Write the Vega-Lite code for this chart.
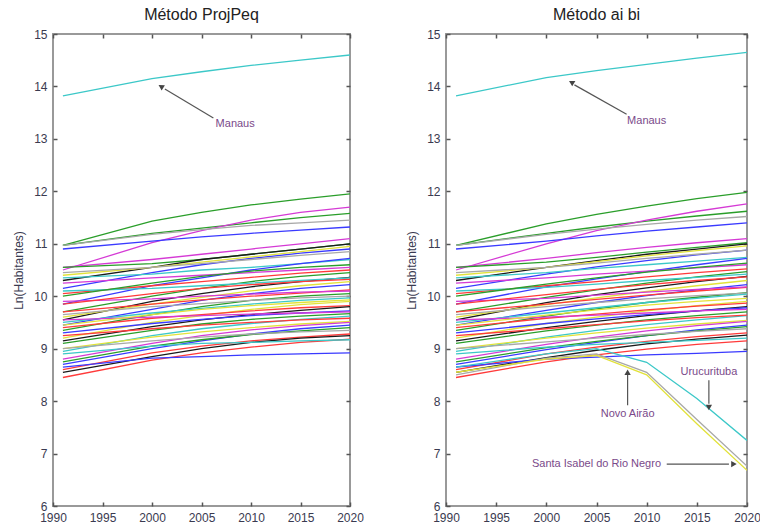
{
"$schema": "https://vega.github.io/schema/vega-lite/v6.json",
"background": "white",
"padding": {"left": 11, "top": 6, "right": 0, "bottom": 4},
"spacing": 39,
"config": {
  "font": "Liberation Sans",
  "view": {"stroke": "#999999", "strokeWidth": 2},
  "axis": {"grid": false, "domain": false, "tickColor": "#555555", "tickWidth": 1.5, "tickSize": 4, "offset": -4, "labelPadding": 6, "labelFlush": false, "labelFontSize": 12, "labelColor": "#3a3a50", "titleFontSize": 12, "titleFontWeight": "normal", "titleColor": "#3a3a50", "titlePadding": 8},
  "title": {"fontSize": 16, "fontWeight": "normal", "color": "#222222", "offset": 5}
},
"datasets": {
"P": [
{"m":"01","c":"c","1991":13.82,"2000":14.15,"2005":14.28,"2010":14.4,"2015":14.5,"2020":14.6},
{"m":"02","c":"g","1991":10.97,"2000":11.43,"2005":11.6,"2010":11.74,"2015":11.85,"2020":11.95},
{"m":"03","c":"g","1991":10.97,"2000":11.2,"2005":11.3,"2010":11.4,"2015":11.5,"2020":11.58},
{"m":"04","c":"m","1991":10.5,"2000":11.02,"2005":11.25,"2010":11.45,"2015":11.6,"2020":11.7},
{"m":"05","c":"gr","1991":10.97,"2000":11.18,"2005":11.27,"2010":11.35,"2015":11.4,"2020":11.45},
{"m":"06","c":"b","1991":10.9,"2000":11.05,"2005":11.13,"2010":11.2,"2015":11.26,"2020":11.32},
{"m":"07","c":"m","1991":10.55,"2000":10.7,"2005":10.8,"2010":10.9,"2015":11.0,"2020":11.1},
{"m":"08","c":"g","1991":10.55,"2000":10.62,"2005":10.7,"2010":10.8,"2015":10.9,"2020":11.0},
{"m":"09","c":"k","1991":10.3,"2000":10.55,"2005":10.7,"2010":10.8,"2015":10.9,"2020":11.0},
{"m":"10","c":"b","1991":10.15,"2000":10.45,"2005":10.6,"2010":10.72,"2015":10.82,"2020":10.9},
{"m":"11","c":"y","1991":10.4,"2000":10.55,"2005":10.65,"2010":10.75,"2015":10.85,"2020":10.95},
{"m":"12","c":"gr","1991":10.45,"2000":10.55,"2005":10.62,"2010":10.7,"2015":10.78,"2020":10.85},
{"m":"13","c":"c","1991":10.35,"2000":10.42,"2005":10.5,"2010":10.55,"2015":10.62,"2020":10.7},
{"m":"14","c":"b","1991":9.85,"2000":10.2,"2005":10.35,"2010":10.5,"2015":10.62,"2020":10.72},
{"m":"15","c":"r","1991":10.05,"2000":10.2,"2005":10.28,"2010":10.36,"2015":10.44,"2020":10.5},
{"m":"16","c":"m","1991":10.25,"2000":10.35,"2005":10.4,"2010":10.45,"2015":10.5,"2020":10.55},
{"m":"17","c":"g","1991":9.7,"2000":10.0,"2005":10.15,"2010":10.28,"2015":10.38,"2020":10.45},
{"m":"18","c":"k","1991":9.55,"2000":9.9,"2005":10.05,"2010":10.18,"2015":10.28,"2020":10.36},
{"m":"19","c":"c","1991":10.1,"2000":10.15,"2005":10.2,"2010":10.25,"2015":10.3,"2020":10.35},
{"m":"20","c":"y","1991":9.6,"2000":9.85,"2005":9.98,"2010":10.1,"2015":10.2,"2020":10.28},
{"m":"21","c":"b","1991":9.45,"2000":9.75,"2005":9.92,"2010":10.05,"2015":10.15,"2020":10.22},
{"m":"22","c":"r","1991":9.7,"2000":9.85,"2005":9.93,"2010":10.0,"2015":10.06,"2020":10.12},
{"m":"23","c":"m","1991":9.9,"2000":9.95,"2005":10.0,"2010":10.04,"2015":10.08,"2020":10.1},
{"m":"24","c":"g","1991":9.35,"2000":9.65,"2005":9.8,"2010":9.92,"2015":10.0,"2020":10.05},
{"m":"25","c":"gr","1991":9.65,"2000":9.8,"2005":9.86,"2010":9.92,"2015":9.97,"2020":10.0},
{"m":"26","c":"c","1991":9.5,"2000":9.68,"2005":9.77,"2010":9.85,"2015":9.92,"2020":9.97},
{"m":"27","c":"y","1991":9.2,"2000":9.5,"2005":9.63,"2010":9.75,"2015":9.84,"2020":9.9},
{"m":"28","c":"r","1991":9.4,"2000":9.58,"2005":9.65,"2010":9.72,"2015":9.78,"2020":9.82},
{"m":"29","c":"k","1991":9.15,"2000":9.42,"2005":9.55,"2010":9.65,"2015":9.73,"2020":9.8},
{"m":"30","c":"b","1991":9.3,"2000":9.48,"2005":9.56,"2010":9.63,"2015":9.68,"2020":9.72},
{"m":"31","c":"m","1991":9.55,"2000":9.6,"2005":9.63,"2010":9.66,"2015":9.68,"2020":9.7},
{"m":"32","c":"g","1991":9.1,"2000":9.35,"2005":9.47,"2010":9.56,"2015":9.62,"2020":9.67},
{"m":"33","c":"c","1991":8.95,"2000":9.25,"2005":9.38,"2010":9.48,"2015":9.56,"2020":9.62},
{"m":"34","c":"r","1991":9.25,"2000":9.38,"2005":9.45,"2010":9.5,"2015":9.55,"2020":9.58},
{"m":"35","c":"y","1991":9.0,"2000":9.22,"2005":9.32,"2010":9.4,"2015":9.47,"2020":9.52},
{"m":"36","c":"m","1991":8.8,"2000":9.1,"2005":9.25,"2010":9.36,"2015":9.44,"2020":9.5},
{"m":"37","c":"b","1991":8.7,"2000":9.0,"2005":9.15,"2010":9.28,"2015":9.38,"2020":9.45},
{"m":"38","c":"g","1991":8.75,"2000":9.05,"2005":9.17,"2010":9.27,"2015":9.34,"2020":9.4},
{"m":"39","c":"r","1991":8.6,"2000":8.92,"2005":9.05,"2010":9.15,"2015":9.22,"2020":9.28},
{"m":"40","c":"k","1991":8.55,"2000":8.85,"2005":9.0,"2010":9.12,"2015":9.2,"2020":9.25},
{"m":"41","c":"r","1991":8.45,"2000":8.78,"2005":8.92,"2010":9.03,"2015":9.12,"2020":9.18},
{"m":"42","c":"c","1991":8.9,"2000":9.05,"2005":9.1,"2010":9.12,"2015":9.15,"2020":9.17},
{"m":"43","c":"b","1991":8.65,"2000":8.82,"2005":8.85,"2010":8.88,"2015":8.9,"2020":8.92},
{"m":"44","c":"y","1991":9.45,"2000":9.65,"2005":9.75,"2010":9.82,"2015":9.88,"2020":9.93},
{"m":"45","c":"gr","1991":9.0,"2000":9.15,"2005":9.22,"2010":9.28,"2015":9.32,"2020":9.35},
{"m":"46","c":"r","1991":9.85,"2000":10.05,"2005":10.15,"2010":10.22,"2015":10.28,"2020":10.32},
{"m":"47","c":"g","1991":10.0,"2000":10.25,"2005":10.38,"2010":10.48,"2015":10.55,"2020":10.6}
],
"A": [
{"m":"01","c":"c","1991":13.82,"2000":14.17,"2005":14.3,"2010":14.42,"2015":14.54,"2020":14.65},
{"m":"02","c":"g","1991":10.97,"2000":11.38,"2005":11.56,"2010":11.72,"2015":11.86,"2020":11.98},
{"m":"03","c":"g","1991":10.97,"2000":11.2,"2005":11.32,"2010":11.43,"2015":11.53,"2020":11.62},
{"m":"04","c":"m","1991":10.5,"2000":11.0,"2005":11.25,"2010":11.45,"2015":11.62,"2020":11.76},
{"m":"05","c":"gr","1991":10.97,"2000":11.18,"2005":11.28,"2010":11.37,"2015":11.45,"2020":11.52},
{"m":"06","c":"b","1991":10.9,"2000":11.05,"2005":11.15,"2010":11.24,"2015":11.32,"2020":11.4},
{"m":"07","c":"m","1991":10.55,"2000":10.72,"2005":10.83,"2010":10.93,"2015":11.02,"2020":11.1},
{"m":"08","c":"g","1991":10.55,"2000":10.65,"2005":10.74,"2010":10.84,"2015":10.93,"2020":11.02},
{"m":"09","c":"k","1991":10.3,"2000":10.55,"2005":10.68,"2010":10.8,"2015":10.9,"2020":11.0},
{"m":"10","c":"b","1991":10.15,"2000":10.42,"2005":10.56,"2010":10.68,"2015":10.79,"2020":10.88},
{"m":"11","c":"y","1991":10.4,"2000":10.55,"2005":10.66,"2010":10.77,"2015":10.87,"2020":10.96},
{"m":"12","c":"gr","1991":10.45,"2000":10.55,"2005":10.63,"2010":10.72,"2015":10.8,"2020":10.88},
{"m":"13","c":"c","1991":10.35,"2000":10.45,"2005":10.53,"2010":10.6,"2015":10.67,"2020":10.74},
{"m":"14","c":"b","1991":9.85,"2000":10.18,"2005":10.33,"2010":10.47,"2015":10.6,"2020":10.72},
{"m":"15","c":"r","1991":10.05,"2000":10.2,"2005":10.28,"2010":10.37,"2015":10.45,"2020":10.52},
{"m":"16","c":"m","1991":10.25,"2000":10.35,"2005":10.42,"2010":10.48,"2015":10.54,"2020":10.6},
{"m":"17","c":"g","1991":9.7,"2000":9.98,"2005":10.12,"2010":10.25,"2015":10.37,"2020":10.47},
{"m":"18","c":"k","1991":9.55,"2000":9.88,"2005":10.03,"2010":10.16,"2015":10.28,"2020":10.38},
{"m":"19","c":"c","1991":10.1,"2000":10.17,"2005":10.23,"2010":10.3,"2015":10.36,"2020":10.42},
{"m":"20","c":"y","1991":9.6,"2000":9.84,"2005":9.97,"2010":10.09,"2015":10.2,"2020":10.3},
{"m":"21","c":"b","1991":9.45,"2000":9.73,"2005":9.88,"2010":10.01,"2015":10.12,"2020":10.22},
{"m":"22","c":"r","1991":9.7,"2000":9.85,"2005":9.94,"2010":10.02,"2015":10.1,"2020":10.17},
{"m":"23","c":"m","1991":9.9,"2000":9.96,"2005":10.02,"2010":10.08,"2015":10.13,"2020":10.18},
{"m":"24","c":"g","1991":9.35,"2000":9.62,"2005":9.76,"2010":9.88,"2015":9.98,"2020":10.07},
{"m":"25","c":"gr","1991":9.65,"2000":9.8,"2005":9.88,"2010":9.95,"2015":10.01,"2020":10.06},
{"m":"26","c":"c","1991":9.5,"2000":9.68,"2005":9.78,"2010":9.88,"2015":9.96,"2020":10.04},
{"m":"27","c":"y","1991":9.2,"2000":9.48,"2005":9.6,"2010":9.72,"2015":9.82,"2020":9.9},
{"m":"28","c":"r","1991":9.4,"2000":9.58,"2005":9.66,"2010":9.74,"2015":9.81,"2020":9.87},
{"m":"29","c":"k","1991":9.15,"2000":9.4,"2005":9.52,"2010":9.63,"2015":9.72,"2020":9.8},
{"m":"30","c":"b","1991":9.3,"2000":9.48,"2005":9.57,"2010":9.65,"2015":9.72,"2020":9.78},
{"m":"31","c":"m","1991":9.55,"2000":9.6,"2005":9.64,"2010":9.68,"2015":9.72,"2020":9.75},
{"m":"32","c":"g","1991":9.1,"2000":9.34,"2005":9.45,"2010":9.55,"2015":9.63,"2020":9.7},
{"m":"33","c":"c","1991":8.95,"2000":9.22,"2005":9.35,"2010":9.46,"2015":9.55,"2020":9.63},
{"m":"34","c":"r","1991":9.25,"2000":9.38,"2005":9.46,"2010":9.53,"2015":9.59,"2020":9.64},
{"m":"35","c":"y","1991":9.0,"2000":9.2,"2005":9.3,"2010":9.39,"2015":9.47,"2020":9.54},
{"m":"36","c":"m","1991":8.8,"2000":9.08,"2005":9.22,"2010":9.34,"2015":9.44,"2020":9.52},
{"m":"37","c":"b","1991":8.7,"2000":8.98,"2005":9.12,"2010":9.25,"2015":9.36,"2020":9.45},
{"m":"38","c":"g","1991":8.75,"2000":9.02,"2005":9.14,"2010":9.25,"2015":9.34,"2020":9.42},
{"m":"39","c":"r","1991":8.6,"2000":8.9,"2005":9.03,"2010":9.14,"2015":9.23,"2020":9.3},
{"m":"40","c":"k","1991":8.55,"2000":8.83,"2005":8.97,"2010":9.09,"2015":9.18,"2020":9.26},
{"m":"41","c":"r","1991":8.45,"2000":8.75,"2005":8.88,"2010":8.99,"2015":9.08,"2020":9.15},
{"m":"42","c":"c","1991":8.9,"2000":9.03,"2005":9.08,"2010":9.12,"2015":9.16,"2020":9.2},
{"m":"43","c":"b","1991":8.65,"2000":8.8,"2005":8.84,"2010":8.88,"2015":8.91,"2020":8.95},
{"m":"44","c":"y","1991":9.45,"2000":9.64,"2005":9.74,"2010":9.83,"2015":9.9,"2020":9.96},
{"m":"45","c":"gr","1991":9.0,"2000":9.13,"2005":9.2,"2010":9.27,"2015":9.33,"2020":9.38},
{"m":"46","c":"r","1991":9.85,"2000":10.03,"2005":10.13,"2010":10.22,"2015":10.3,"2020":10.37},
{"m":"47","c":"g","1991":10.0,"2000":10.23,"2005":10.35,"2010":10.46,"2015":10.55,"2020":10.63},
{"m":"U","c":"c","1991":8.65,"2000":8.9,"2005":9.0,"2010":8.74,"2015":8.05,"2020":7.25},
{"m":"N","c":"gr","1991":8.5,"2000":8.82,"2005":8.9,"2010":8.55,"2015":7.65,"2020":6.76},
{"m":"S","c":"y","1991":8.55,"2000":8.8,"2005":8.87,"2010":8.5,"2015":7.57,"2020":6.68}
]
},
"hconcat": [
{
  "title": "Método ProjPeq",
  "width": 297, "height": 472,
  "layer": [
    {
      "data": {"name": "P"},
      "transform": [{"fold": ["1991","2000","2005","2010","2015","2020"], "as": ["ano","v"]}],
      "mark": {"type": "line", "strokeWidth": 1.3, "clip": true},
      "encoding": {
        "x": {"field": "ano", "type": "quantitative", "scale": {"domain": [1990, 2020], "nice": false, "zero": false}, "axis": {"values": [1990,1995,2000,2005,2010,2015,2020], "format": "d", "title": null}},
        "y": {"field": "v", "type": "quantitative", "scale": {"domain": [6, 15], "nice": false, "zero": false}, "axis": {"values": [6,7,8,9,10,11,12,13,14,15], "title": "Ln(Habitantes)"}},
        "color": {"field": "c", "type": "nominal", "scale": {"domain": ["b","g","r","c","m","y","k","gr"], "range": ["#3a3aff","#2a9e2a","#ff3a3a","#3cc8c8","#d53ad5","#e2e23a","#1a1a1a","#a8a8a8"]}, "legend": null},
        "detail": {"field": "m"}
      }
    },
    {
      "data": {"values": [{"x": 2006.2, "y": 13.4, "x2": 2001.3, "y2": 13.95}]},
      "mark": {"type": "rule", "color": "#555555", "strokeWidth": 1.2},
      "encoding": {"x": {"field": "x", "type": "quantitative", "axis": null}, "y": {"field": "y", "type": "quantitative", "axis": null}, "x2": {"field": "x2"}, "y2": {"field": "y2"}}
    },
    {
      "data": {"values": [{"x": 2000.9, "y": 14.0}]},
      "mark": {"type": "point", "shape": "triangle-up", "angle": 301, "filled": true, "color": "#444444", "size": 40, "opacity": 1},
      "encoding": {"x": {"field": "x", "type": "quantitative", "axis": null}, "y": {"field": "y", "type": "quantitative", "axis": null}}
    },
    {
      "data": {"values": [{"x": 2008.4, "y": 13.28, "t": "Manaus"}]},
      "mark": {"type": "text", "fontSize": 11, "color": "#7a4a8a", "align": "center", "baseline": "middle"},
      "encoding": {
        "x": {"field": "x", "type": "quantitative", "axis": {"orient": "top", "values": [1990,1995,2000,2005,2010,2015,2020], "labels": false, "title": null}},
        "y": {"field": "y", "type": "quantitative", "axis": {"orient": "right", "values": [6,7,8,9,10,11,12,13,14,15], "labels": false, "title": null}},
        "text": {"field": "t"}
      }
    }
  ],
  "resolve": {"axis": {"x": "independent", "y": "independent"}}
},
{
  "title": "Método ai bi",
  "width": 301, "height": 472,
  "layer": [
    {
      "data": {"name": "A"},
      "transform": [{"fold": ["1991","2000","2005","2010","2015","2020"], "as": ["ano","v"]}],
      "mark": {"type": "line", "strokeWidth": 1.3, "clip": true},
      "encoding": {
        "x": {"field": "ano", "type": "quantitative", "scale": {"domain": [1990, 2020], "nice": false, "zero": false}, "axis": {"values": [1990,1995,2000,2005,2010,2015,2020], "format": "d", "title": null}},
        "y": {"field": "v", "type": "quantitative", "scale": {"domain": [6, 15], "nice": false, "zero": false}, "axis": {"values": [6,7,8,9,10,11,12,13,14,15], "title": "Ln(Habitantes)"}},
        "color": {"field": "c", "type": "nominal", "scale": {"domain": ["b","g","r","c","m","y","k","gr"], "range": ["#3a3aff","#2a9e2a","#ff3a3a","#3cc8c8","#d53ad5","#e2e23a","#1a1a1a","#a8a8a8"]}, "legend": null},
        "detail": {"field": "m"}
      }
    },
    {
      "data": {"values": [
        {"x": 2008.0, "y": 13.47, "x2": 2002.8, "y2": 14.03},
        {"x": 2008.1, "y": 7.92, "x2": 2008.1, "y2": 8.5},
        {"x": 2016.2, "y": 8.4, "x2": 2016.2, "y2": 7.95},
        {"x": 2012.0, "y": 6.8, "x2": 2018.2, "y2": 6.8}
      ]},
      "mark": {"type": "rule", "color": "#555555", "strokeWidth": 1.2},
      "encoding": {"x": {"field": "x", "type": "quantitative", "axis": null}, "y": {"field": "y", "type": "quantitative", "axis": null}, "x2": {"field": "x2"}, "y2": {"field": "y2"}}
    },
    {
      "data": {"values": [{"x": 2002.5, "y": 14.08}]},
      "mark": {"type": "point", "shape": "triangle-up", "angle": 300, "filled": true, "color": "#444444", "size": 40, "opacity": 1},
      "encoding": {"x": {"field": "x", "type": "quantitative", "axis": null}, "y": {"field": "y", "type": "quantitative", "axis": null}}
    },
    {
      "data": {"values": [{"x": 2008.1, "y": 8.55}]},
      "mark": {"type": "point", "shape": "triangle-up", "angle": 0, "filled": true, "color": "#444444", "size": 40, "opacity": 1},
      "encoding": {"x": {"field": "x", "type": "quantitative", "axis": null}, "y": {"field": "y", "type": "quantitative", "axis": null}}
    },
    {
      "data": {"values": [{"x": 2016.2, "y": 7.88}]},
      "mark": {"type": "point", "shape": "triangle-up", "angle": 180, "filled": true, "color": "#444444", "size": 40, "opacity": 1},
      "encoding": {"x": {"field": "x", "type": "quantitative", "axis": null}, "y": {"field": "y", "type": "quantitative", "axis": null}}
    },
    {
      "data": {"values": [{"x": 2018.7, "y": 6.8}]},
      "mark": {"type": "point", "shape": "triangle-up", "angle": 90, "filled": true, "color": "#444444", "size": 40, "opacity": 1},
      "encoding": {"x": {"field": "x", "type": "quantitative", "axis": null}, "y": {"field": "y", "type": "quantitative", "axis": null}}
    },
    {
      "data": {"values": [
        {"x": 2010.0, "y": 13.34, "t": "Manaus"},
        {"x": 2008.1, "y": 7.76, "t": "Novo Airão"},
        {"x": 2016.2, "y": 8.55, "t": "Urucurituba"},
        {"x": 2005.0, "y": 6.8, "t": "Santa Isabel do Rio Negro"}
      ]},
      "mark": {"type": "text", "fontSize": 11, "color": "#7a4a8a", "align": "center", "baseline": "middle"},
      "encoding": {
        "x": {"field": "x", "type": "quantitative", "axis": {"orient": "top", "values": [1990,1995,2000,2005,2010,2015,2020], "labels": false, "title": null}},
        "y": {"field": "y", "type": "quantitative", "axis": {"orient": "right", "values": [6,7,8,9,10,11,12,13,14,15], "labels": false, "title": null}},
        "text": {"field": "t"}
      }
    }
  ],
  "resolve": {"axis": {"x": "independent", "y": "independent"}}
}
]
}
